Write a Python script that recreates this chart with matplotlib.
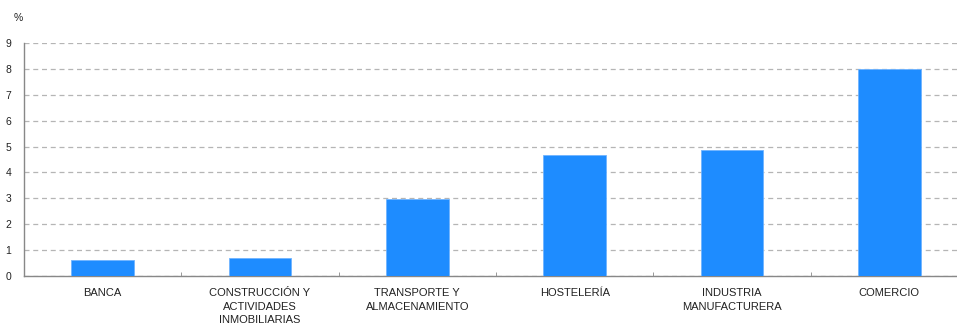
import matplotlib
matplotlib.use("Agg")
import matplotlib.pyplot as plt
from matplotlib.ticker import FixedLocator

plt.rcParams['font.family'] = ['Liberation Sans', 'DejaVu Sans']

# datos
sectores = ['BANCA', 'CONSTRUCCIÓN Y\nACTIVIDADES\nINMOBILIARIAS', 'TRANSPORTE Y\nALMACENAMIENTO',
            'HOSTELERÍA', 'INDUSTRIA\nMANUFACTURERA', 'COMERCIO']
valores = [0.62, 0.68, 2.97, 4.69, 4.88, 8.0]
yticks = list(range(0, 10))

fig = plt.figure(figsize=(9.57, 3.24), dpi=100)
ax = fig.add_axes([24/957, 1-276/324, 944/957, 233/324])

x = range(len(sectores))
ax.bar(x, valores, width=0.4, color='#1e8cff', edgecolor='#6fb4ff', linewidth=0.6, zorder=3)

ax.set_xlim(-0.5, len(sectores) - 0.5)
ax.set_ylim(0, 9)
ax.set_yticks(yticks)
ax.set_yticklabels([str(t) for t in yticks], fontsize=7.5, color='#222222')
ax.tick_params(axis='y', length=0, pad=9)
ax.yaxis.grid(True, linestyle=(0, (4, 3)), color='#b5b5b5', linewidth=0.9, zorder=0)
ax.set_axisbelow(True)

ax.set_xticks(list(x))
ax.set_xticklabels(sectores, fontsize=8, color='#222222', linespacing=1.4)
ax.tick_params(axis='x', length=0, pad=9)
ax.xaxis.set_minor_locator(FixedLocator([i + 0.5 for i in range(len(sectores) - 1)]))
ax.tick_params(axis='x', which='minor', direction='in', length=3, color='#888888')

for s in ['top', 'right']:
    ax.spines[s].set_visible(False)
for s in ['left', 'bottom']:
    ax.spines[s].set_color('#888888')
    ax.spines[s].set_linewidth(1.0)

fig.text(14/957, 1-18/324, '%', fontsize=7.5, color='#222222', va='center')

fig.savefig('out.png', dpi=100)
